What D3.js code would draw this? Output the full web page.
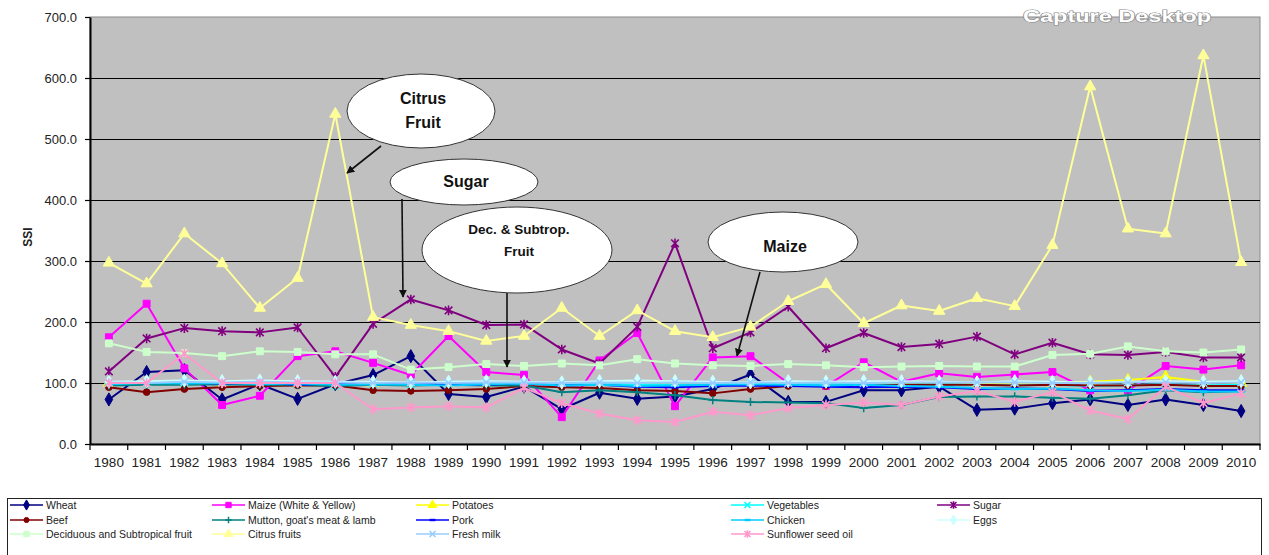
<!DOCTYPE html>
<html>
<head>
<meta charset="utf-8">
<script src="https://cdn.jsdelivr.net/npm/d3@7"></script>
<style>
  html, body { margin: 0; padding: 0; background: #ffffff; }
  svg { display: block; font-family: Arial, "Liberation Sans", sans-serif; }
</style>
</head>
<body>
<svg id="chart" width="1269" height="555"></svg>
<script>
// ---- categories and axis ticks ----
const years = ["1980","1981","1982","1983","1984","1985","1986","1987","1988","1989",
               "1990","1991","1992","1993","1994","1995","1996","1997","1998","1999",
               "2000","2001","2002","2003","2004","2005","2006","2007","2008","2009","2010"];
const yTicks = [0, 100, 200, 300, 400, 500, 600, 700];

// ---- series values (SSI) ----
const wheat      = [73,118,121,73,98,74,98,113,144,82,77,94,57,84,74,78,90,114,69,69,88,88,94,56,58,67,73,64,73,64,54];
const maize      = [175,230,124,64,79,144,152,133,113,177,118,113,44,137,182,62,142,144,100,95,134,102,116,110,114,118,88,88,128,122,129];
const potatoes   = [100,101,102,100,101,100,101,100,101,100,100,101,100,101,100,101,100,101,100,101,100,100,101,100,100,100,102,105,110,102,100];
const vegetables = [98,99,100,100,99,98,96,99,98,99,100,99,98,99,98,97,98,99,98,99,98,97,98,97,96,97,95,96,98,96,97];
const sugar      = [119,173,190,185,183,191,110,197,237,219,195,196,155,132,192,329,157,183,225,157,182,159,164,176,147,166,147,146,151,142,142];
const beef       = [93,85,90,93,95,96,96,88,87,88,90,95,93,92,88,87,83,90,95,95,96,97,97,97,96,97,96,96,97,95,95];
const mutton     = [96,97,97,98,97,97,95,97,96,97,96,96,85,88,85,80,72,69,68,67,59,64,77,78,78,76,74,80,88,85,87];
const pork       = [100,100,101,99,100,97,99,100,100,98,97,100,96,97,94,93,95,96,95,94,93,94,93,90,91,90,87,88,90,88,88];
const chicken    = [98,100,99,100,98,99,97,98,97,96,98,99,96,97,95,96,97,98,97,96,97,95,94,92,90,91,88,87,89,86,86];
const eggs       = [102,103,104,103,104,103,102,102,101,102,103,102,101,103,104,103,102,101,103,102,103,103,102,101,103,102,101,102,103,102,103];
const deciduous  = [165,151,149,144,152,151,147,147,122,126,131,128,132,129,139,132,129,128,131,129,126,127,128,127,127,146,148,160,152,150,155];
const citrus     = [297,263,345,296,223,272,541,208,195,185,169,177,223,177,219,185,175,192,234,262,198,227,218,239,226,326,586,353,345,637,298];
const freshMilk  = [101,100,102,101,102,101,101,100,101,100,101,101,100,101,100,101,100,101,100,101,100,101,101,101,101,100,100,101,101,100,101];
const sunflower  = [100,100,148,100,100,100,100,57,60,62,60,92,67,50,39,36,53,47,59,64,68,64,78,87,69,85,55,41,94,67,83];

const seriesNames = ["Wheat","Maize (White & Yellow)","Potatoes","Vegetables","Sugar",
                     "Beef","Mutton, goat's meat & lamb","Pork","Chicken","Eggs",
                     "Deciduous and Subtropical fruit","Citrus fruits","Fresh milk","Sunflower seed oil"];

// series in drawing order, each with its line colour and marker type
const series = [
  { name: seriesNames[0],  values: wheat,      color: "#000080", marker: "diamond"  },
  { name: seriesNames[1],  values: maize,      color: "#ff00ff", marker: "square"   },
  { name: seriesNames[2],  values: potatoes,   color: "#ffff00", marker: "triangle" },
  { name: seriesNames[3],  values: vegetables, color: "#00ffff", marker: "x"        },
  { name: seriesNames[4],  values: sugar,      color: "#800080", marker: "star"     },
  { name: seriesNames[5],  values: beef,       color: "#800000", marker: "circle"   },
  { name: seriesNames[6],  values: mutton,     color: "#008080", marker: "plus"     },
  { name: seriesNames[7],  values: pork,       color: "#0000ff", marker: "dash"     },
  { name: seriesNames[8],  values: chicken,    color: "#00ccff", marker: "dash"     },
  { name: seriesNames[9],  values: eggs,       color: "#ccffff", marker: "diamond"  },
  { name: seriesNames[10], values: deciduous,  color: "#ccffcc", marker: "square"   },
  { name: seriesNames[11], values: citrus,     color: "#ffff99", marker: "triangle" },
  { name: seriesNames[12], values: freshMilk,  color: "#99ccff", marker: "x"        },
  { name: seriesNames[13], values: sunflower,  color: "#ff99cc", marker: "star"     }
];

// ---- layout ----
const svg = d3.select("#chart");
const plot = { left: 90, right: 1260, top: 17, bottom: 444 };

const x = d3.scaleBand().domain(years).range([plot.left, plot.right]).padding(0);
const cx = d => x(d) + x.bandwidth() / 2;
const y = d3.scaleLinear().domain([0, 700]).range([plot.bottom, plot.top]);

// plot area
svg.append("rect")
  .attr("x", plot.left).attr("y", plot.top)
  .attr("width", plot.right - plot.left).attr("height", plot.bottom - plot.top)
  .attr("fill", "#c0c0c0").attr("stroke", "#8a8a8a").attr("stroke-width", 1);

// horizontal gridlines
svg.append("g").selectAll("line")
  .data(yTicks.filter(v => v > 0 && v < 700))
  .join("line")
  .attr("x1", plot.left).attr("x2", plot.right)
  .attr("y1", d => Math.round(y(d)) + 0.5).attr("y2", d => Math.round(y(d)) + 0.5)
  .attr("stroke", "#000").attr("stroke-width", 1.2);

// y axis
const yAxis = svg.append("g")
  .attr("transform", `translate(${plot.left},0)`)
  .call(d3.axisLeft(y).tickValues(yTicks).tickFormat(d3.format(".1f"))
          .tickSize(5).tickSizeOuter(0).tickPadding(8));
yAxis.select(".domain").attr("stroke", "#000").attr("stroke-width", 2);
yAxis.selectAll(".tick line").attr("stroke", "#000").attr("stroke-width", 1.2);
yAxis.selectAll("text").attr("font-size", 13).attr("fill", "#222")
  .attr("font-family", "Arial, 'Liberation Sans', sans-serif");

// x axis: labels centred in each category, tick marks on category boundaries
const xAxis = svg.append("g")
  .attr("transform", `translate(0,${plot.bottom})`)
  .call(d3.axisBottom(x).tickSize(0).tickSizeOuter(0).tickPadding(13));
xAxis.select(".domain").attr("stroke", "#000").attr("stroke-width", 2);
xAxis.selectAll("text").attr("font-size", 13.5).attr("fill", "#222")
  .attr("font-family", "Arial, 'Liberation Sans', sans-serif");
xAxis.selectAll("line.boundary")
  .data(years.map(d => x(d)).concat([plot.right]))
  .join("line").attr("class", "boundary")
  .attr("x1", d => d).attr("x2", d => d)
  .attr("y1", 0).attr("y2", 6)
  .attr("stroke", "#000").attr("stroke-width", 1.2);

// y axis title
svg.append("text")
  .attr("transform", "translate(32,237) rotate(-90)")
  .attr("text-anchor", "middle")
  .attr("font-size", 12).attr("font-weight", "bold").attr("fill", "#222")
  .text("SSI");

// ---- marker shapes ----
function drawMarker(sel, type, color, k = 1) {
  if (type === "diamond") {
    sel.append("path").attr("d", d3.symbol(d3.symbolDiamond, 50 * k)()).attr("fill", color).attr("stroke", color);
  } else if (type === "square") {
    sel.append("path").attr("d", d3.symbol(d3.symbolSquare, 48 * k)()).attr("fill", color).attr("stroke", color);
  } else if (type === "triangle") {
    sel.append("path").attr("d", d3.symbol(d3.symbolTriangle, 55 * k)()).attr("fill", color).attr("stroke", color);
  } else if (type === "circle") {
    sel.append("path").attr("d", d3.symbol(d3.symbolCircle, 34 * k)()).attr("fill", color).attr("stroke", color);
  } else if (type === "x") {
    const r = 3.8 * Math.sqrt(k);
    sel.append("path").attr("d", `M${-r},${-r}L${r},${r}M${-r},${r}L${r},${-r}`)
      .attr("stroke", color).attr("stroke-width", 1.6).attr("fill", "none");
  } else if (type === "star") {
    const r = 3.8 * Math.sqrt(k), v = 4.8 * Math.sqrt(k);
    sel.append("path").attr("d", `M${-r},${-r}L${r},${r}M${-r},${r}L${r},${-r}M0,${-v}L0,${v}`)
      .attr("stroke", color).attr("stroke-width", 1.6).attr("fill", "none");
  } else if (type === "plus") {
    const r = 4.2 * Math.sqrt(k);
    sel.append("path").attr("d", `M${-r},0L${r},0M0,${-r}L0,${r}`)
      .attr("stroke", color).attr("stroke-width", 1.5).attr("fill", "none");
  } else if (type === "dash") {
    const r = 3.8 * Math.sqrt(k);
    sel.append("path").attr("d", `M${-r},0L${r},0`)
      .attr("stroke", color).attr("stroke-width", 2.4).attr("fill", "none");
  }
}

// ---- series lines and markers ----
const line = d3.line().x((d, i) => cx(years[i])).y(d => y(d));
const seriesG = svg.append("g");
series.forEach(s => {
  const g = seriesG.append("g");
  g.append("path").datum(s.values)
    .attr("d", line).attr("fill", "none")
    .attr("stroke", s.color).attr("stroke-width", 2).attr("stroke-linejoin", "round");
  g.selectAll("g.pt").data(s.values).join("g").attr("class", "pt")
    .attr("transform", (d, i) => `translate(${cx(years[i])},${y(d)})`)
    .each(function () { drawMarker(d3.select(this), s.marker, s.color); });
});

// ---- callout annotations ----
const defs = svg.append("defs");
defs.append("marker").attr("id", "arrowhead")
  .attr("viewBox", "0 0 10 10").attr("refX", 9).attr("refY", 5)
  .attr("markerWidth", 5).attr("markerHeight", 5).attr("orient", "auto")
  .append("path").attr("d", "M0,0L10,5L0,10Z").attr("fill", "#111");

const callouts = [
  { cx: 421, cy: 111, rx: 74, ry: 37, size: 16, lines: [["Citrus", 104], ["Fruit", 128]], arrow: [381, 146, 347, 173] },
  { cx: 464, cy: 182, rx: 74, ry: 23, size: 16, lines: [["Sugar", 187]],                  arrow: [402, 199, 403, 297] },
  { cx: 517, cy: 250, rx: 95, ry: 43, size: 13.5, lines: [["Dec. & Subtrop.", 234], ["Fruit", 256]], arrow: [507, 293, 507, 367] },
  { cx: 783, cy: 242, rx: 75, ry: 30, size: 16, lines: [["Maize", 252]],                  arrow: [760, 272, 737, 356] }
];
const annG = svg.append("g");
callouts.forEach(c => {
  annG.append("line")
    .attr("x1", c.arrow[0]).attr("y1", c.arrow[1]).attr("x2", c.arrow[2]).attr("y2", c.arrow[3])
    .attr("stroke", "#111").attr("stroke-width", 1.6).attr("marker-end", "url(#arrowhead)");
  annG.append("ellipse")
    .attr("cx", c.cx).attr("cy", c.cy).attr("rx", c.rx).attr("ry", c.ry)
    .attr("fill", "#ffffff").attr("stroke", "#333").attr("stroke-width", 1);
  c.lines.forEach(([t, by]) => {
    annG.append("text").attr("x", c.cx + 2).attr("y", by)
      .attr("text-anchor", "middle").attr("font-size", c.size).attr("font-weight", "bold")
      .attr("fill", "#111").text(t);
  });
});

// screen-capture caption in the top right corner
svg.append("text")
  .attr("x", 1117).attr("y", 22)
  .attr("text-anchor", "middle").attr("font-size", 16).attr("font-weight", "bold")
  .attr("fill", "#ffffff").attr("stroke", "#8a8a8a").attr("stroke-width", 1.2)
  .attr("paint-order", "stroke").attr("textLength", 188).attr("lengthAdjust", "spacingAndGlyphs")
  .text("Capture Desktop");

// ---- legend ----
const legendCols = [46, 248, 452, 767, 973];
const legendRows = [505, 520, 534];
svg.append("rect")
  .attr("x", 7.5).attr("y", 498.5).attr("width", 1254).attr("height", 80)
  .attr("fill", "#fff").attr("stroke", "#222").attr("stroke-width", 1);
const leg = svg.append("g");
series.forEach((s, i) => {
  const tx = legendCols[i % 5];
  const ty = legendRows[Math.floor(i / 5)];
  const g = leg.append("g");
  g.append("line").attr("x1", tx - 36).attr("x2", tx - 3).attr("y1", ty).attr("y2", ty)
    .attr("stroke", s.color).attr("stroke-width", 1.4);
  const m = g.append("g").attr("transform", `translate(${tx - 19.5},${ty})`);
  drawMarker(m, s.marker, s.color, 0.6);
  g.append("text").attr("x", tx).attr("y", ty + 4)
    .attr("font-size", 10.5).attr("fill", "#222").text(s.name);
});
</script>
</body>
</html>
